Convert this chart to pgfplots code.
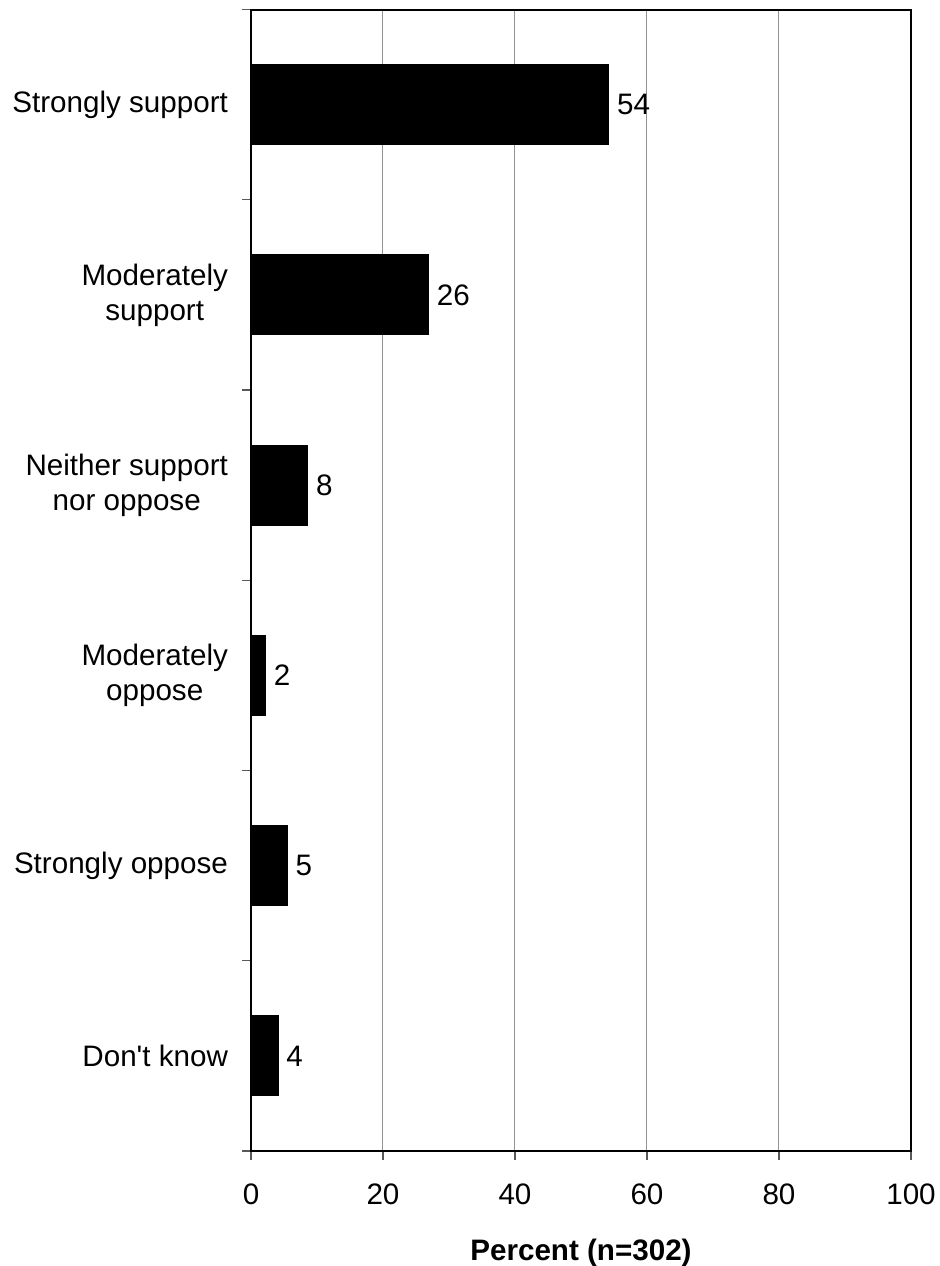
\documentclass[border=0pt]{standalone}
\usepackage{pgfplots}
\usepackage{pgfplotstable}
\usepackage{fontspec}
\setmainfont{Liberation Sans}
\pgfplotsset{compat=1.18}
\pgfplotstableread{
y x label
0 54.2 54
1 26.9 26
2 8.6 8
3 2.2 2
4 5.5 5
5 4.1 4
}\datatable
\newcommand{\lbl}{\fontsize{14.8}{17.5}\selectfont}
\begin{document}
\begin{tikzpicture}
\path[use as bounding box] (-125.5pt,-57.5pt) rectangle (344pt,575.5pt);
\begin{axis}[
  at={(0,0)}, anchor=south west,
  scale only axis,
  width=330pt, height=570.75pt,
  xbar, bar width=40pt,
  xmin=0, xmax=100,
  ymin=-0.5, ymax=5.5,
  y dir=reverse,
  xtick pos=bottom, ytick pos=left,
  xtick={0,20,...,100},
  ytick={-0.5,0.5,1.5,2.5,3.5,4.5,5.5},
  yticklabels={,,,,,,},
  extra y ticks={0,1,2,3,4,5},
  extra y tick labels={{Strongly support},{Moderately\\support},{Neither support\\nor oppose},{Moderately\\oppose},{Strongly oppose},{Don\textquotesingle t know}},
  extra y tick style={tick style={draw=none}, yticklabel style={align=center, anchor=east, font=\lbl, xshift=-3.5pt}},
  xmajorgrids, ymajorgrids=false,
  grid style={gray!85, line width=0.5pt},
  tick align=outside,
  major tick length=4.5pt,
  tick style={gray!70!black, line width=0.6pt},
  axis line style={black, line width=1pt},
  tick label style={font=\lbl},
  /pgf/number format/assume math mode=true,
  xticklabel style={yshift=-8.5pt},
  xlabel={Percent (n=302)},
  xlabel style={font=\lbl\bfseries, yshift=-10pt},
  nodes near coords,
  point meta=explicit symbolic,
  nodes near coords style={font=\lbl, anchor=west, inner sep=2pt, xshift=2pt},
  clip=false,
]
\addplot[fill=black, draw=black] table[x=x, y=y, meta=label] {\datatable};
\end{axis}
\end{tikzpicture}
\end{document}
